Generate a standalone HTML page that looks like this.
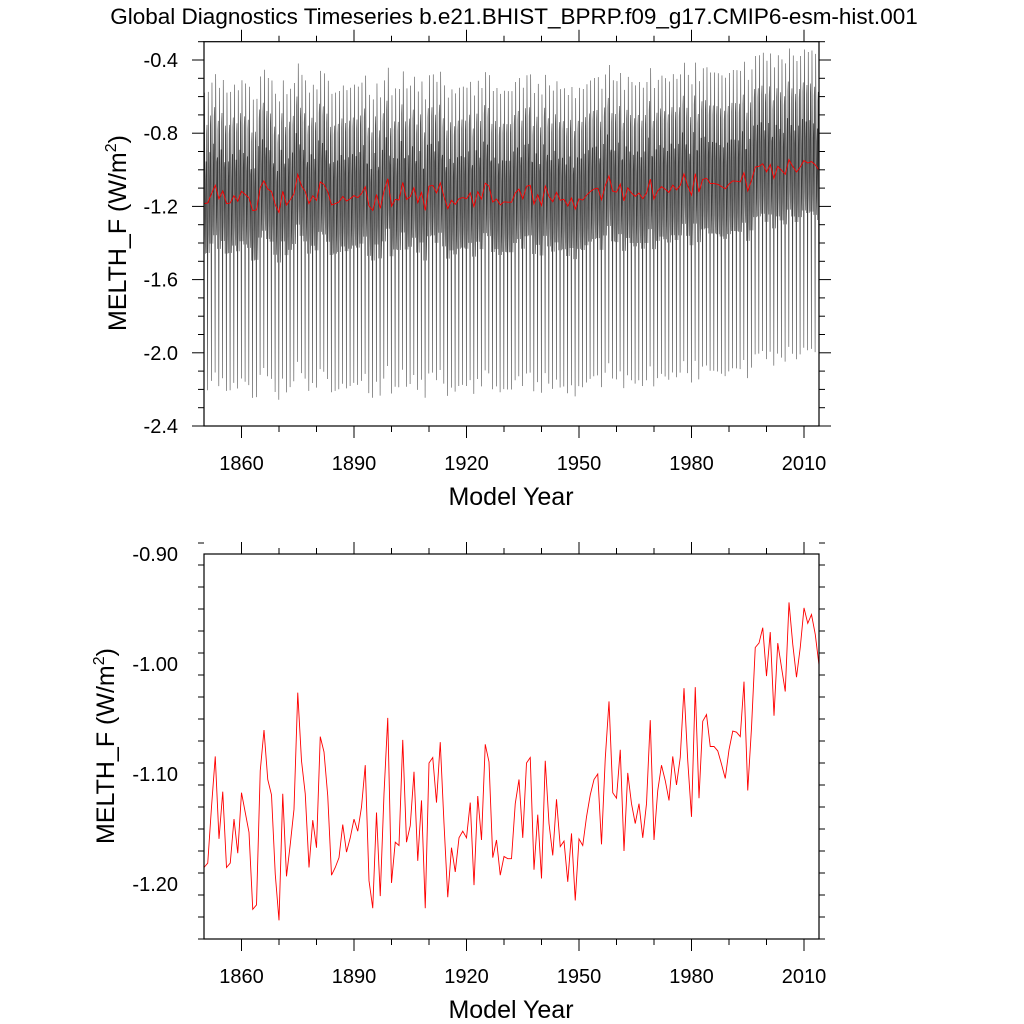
<!DOCTYPE html>
<html><head><meta charset="utf-8">
<style>
html,body{margin:0;padding:0;background:#fff;}
svg{display:block;font-family:"Liberation Sans",Arial,sans-serif;}
</style></head>
<body>
<svg id="chart" width="1024" height="1024" viewBox="0 0 1024 1024" xmlns="http://www.w3.org/2000/svg">
<text x="514" y="24" font-size="22.5" text-anchor="middle" fill="#000">Global Diagnostics Timeseries b.e21.BHIST_BPRP.f09_g17.CMIP6-esm-hist.001</text>
<g id="top"></g>
<g id="bot"></g>
<text x="511" y="505" font-size="25" text-anchor="middle">Model Year</text>
<text x="511" y="1018" font-size="25" text-anchor="middle">Model Year</text>
<text transform="translate(126,233) rotate(-90)" font-size="25" text-anchor="middle">MELTH_F (W/m<tspan dy="-10" font-size="16">2</tspan><tspan dy="10">)</tspan></text>
<text transform="translate(114,746) rotate(-90)" font-size="25" text-anchor="middle">MELTH_F (W/m<tspan dy="-10" font-size="16">2</tspan><tspan dy="10">)</tspan></text>
</svg>
<script>
const startYear = 1850;
const annualMean = [
-1.185,-1.181,-1.130,-1.084,-1.159,-1.116,-1.185,-1.181,-1.141,-1.172,
-1.117,-1.135,-1.153,-1.223,-1.219,-1.097,-1.060,-1.105,-1.119,-1.191,
-1.233,-1.118,-1.193,-1.164,-1.132,-1.026,-1.088,-1.118,-1.185,-1.142,
-1.167,-1.066,-1.080,-1.120,-1.192,-1.185,-1.176,-1.146,-1.171,-1.158,
-1.141,-1.152,-1.130,-1.092,-1.197,-1.222,-1.135,-1.211,-1.118,-1.049,
-1.199,-1.162,-1.165,-1.069,-1.162,-1.147,-1.098,-1.179,-1.124,-1.222,
-1.090,-1.085,-1.126,-1.071,-1.145,-1.212,-1.167,-1.189,-1.158,-1.152,
-1.158,-1.126,-1.201,-1.120,-1.160,-1.073,-1.089,-1.176,-1.160,-1.192,
-1.175,-1.177,
-1.177,-1.127,-1.105,-1.158,-1.090,-1.085,-1.187,-1.137,-1.195,-1.088,
-1.145,-1.174,-1.123,-1.166,-1.161,-1.198,-1.154,-1.215,-1.159,-1.165,
-1.139,-1.119,-1.105,-1.100,-1.164,-1.086,-1.034,-1.117,-1.122,-1.078,
-1.170,-1.099,-1.127,-1.145,-1.127,-1.158,-1.127,-1.051,-1.160,-1.115,
-1.092,-1.106,-1.124,-1.084,-1.110,-1.085,-1.022,-1.088,-1.139,-1.021,
-1.122,-1.052,-1.046,-1.075,-1.075,-1.079,-1.091,-1.104,-1.078,-1.061,
-1.062,-1.066,-1.016,-1.115,-1.058,-0.985,-0.981,-0.967,-1.011,-0.971,
-1.047,-0.981,-1.003,-1.025,-0.944,-0.982,-1.012,-0.985,-0.949,-0.963,
-0.955,-0.973,-1.001
];
// estimated monthly climatological shape (W/m2), applied around each year's mean
const seasonalShape = [-1.00,-1.50,-0.85,-0.80,-1.45,-2.25,-1.30,-0.62,-0.95,-1.40,-1.50,-1.10];
const xTickYears = [1860,1890,1920,1950,1980,2010];
const topYTicks = [-2.4,-2.0,-1.6,-1.2,-0.8,-0.4];
const topYLabels = ["-2.4","-2.0","-1.6","-1.2","-0.8","-0.4"];
const botYTicks = [-1.2,-1.1,-1.0,-0.9];
const botYLabels = ["-1.20","-1.10","-1.00","-0.90"];

const NS = "http://www.w3.org/2000/svg";
function mk(tag, attrs, parent){ const e=document.createElementNS(NS,tag); for(const k in attrs) e.setAttribute(k,attrs[k]); parent.appendChild(e); return e; }

const X0=204, X1=819;
const yrMin=startYear, yrMax=startYear+annualMean.length-1;
function xS(yr){ return X0+(yr-yrMin)*(X1-X0)/(yrMax-yrMin); }

function panel(g, top, bottom, vmin, vmax, yTicks, yLabels, minorStep, namePrefix){
  const yS = v => bottom-(v-vmin)*(bottom-top)/(vmax-vmin);
  const ticks = mk('g',{stroke:'#000','stroke-width':1},g);
  
  
  for(let yr=1860; yr<=yrMax; yr+=10){
    const x=xS(yr); const major=xTickYears.includes(yr); const L=major?12:6;
    mk('line',{x1:x,x2:x,y1:bottom,y2:bottom+L},ticks);
    mk('line',{x1:x,x2:x,y1:top,y2:top-L},ticks);
  }
  const nMin=Math.round((vmax-vmin)/minorStep);
  for(let i=0;i<=nMin;i++){
    const v=vmin+i*minorStep; const y=yS(v);
    const major=yTicks.some(t=>Math.abs(t-v)<1e-6); const L=major?12:6;
    mk('line',{x1:X0,x2:X0-L,y1:y,y2:y},ticks);
    mk('line',{x1:X1,x2:X1+L,y1:y,y2:y},ticks);
  }
  xTickYears.forEach(yr=>{
    const t=mk('text',{x:xS(yr),y:bottom+44,'font-size':20,'text-anchor':'middle'},g);
    t.textContent=yr;
    
    
  });
  yTicks.forEach((v,i)=>{
    const t=mk('text',{x:178,y:yS(v)+7,'font-size':20,'text-anchor':'end'},g);
    t.textContent=yLabels[i];
    
    
  });
  return yS;
}

const gT=document.getElementById('top');
const yT=panel(gT,41.7,426,-2.4,-0.3,topYTicks,topYLabels,0.1,'top');
const sMean=seasonalShape.reduce((a,b)=>a+b,0)/12;
let d='';
annualMean.forEach((v,i)=>{
  seasonalShape.forEach((s,m)=>{
    const yr=startYear+i+(m-5.5)/12;
    const x=xS(yr), y=yT(v+(s-sMean));
    d+=(d?'L':'M')+x.toFixed(2)+' '+y.toFixed(2);
  });
});
const clipT=mk('clipPath',{id:'clipT'},gT); mk('rect',{x:X0,y:41.7,width:X1-X0,height:426-41.7},clipT);
const mline=mk('path',{d:d,fill:'none',stroke:'#3a3a3a','stroke-width':0.55,'clip-path':'url(#clipT)'},gT);


let dA='';
annualMean.forEach((v,i)=>{ dA+=(i?'L':'M')+xS(startYear+i).toFixed(2)+' '+yT(v).toFixed(2); });
const aT=mk('path',{d:dA,fill:'none',stroke:'#ff0000','stroke-width':0.9},gT);


const fT=mk('rect',{x:X0,y:41.7,width:X1-X0,height:426-41.7,fill:'none',stroke:'#000','stroke-width':1.2},gT);



const gB=document.getElementById('bot');
const yB=panel(gB,554,939,-1.25,-0.9,botYTicks,botYLabels,0.02,'bottom');
let dB='';
annualMean.forEach((v,i)=>{ dB+=(i?'L':'M')+xS(startYear+i).toFixed(2)+' '+yB(v).toFixed(2); });
const aB=mk('path',{d:dB,fill:'none',stroke:'#ff0000','stroke-width':0.9},gB);


const fB=mk('rect',{x:X0,y:554,width:X1-X0,height:939-554,fill:'none',stroke:'#000','stroke-width':1.2},gB);


</script>
</body></html>
